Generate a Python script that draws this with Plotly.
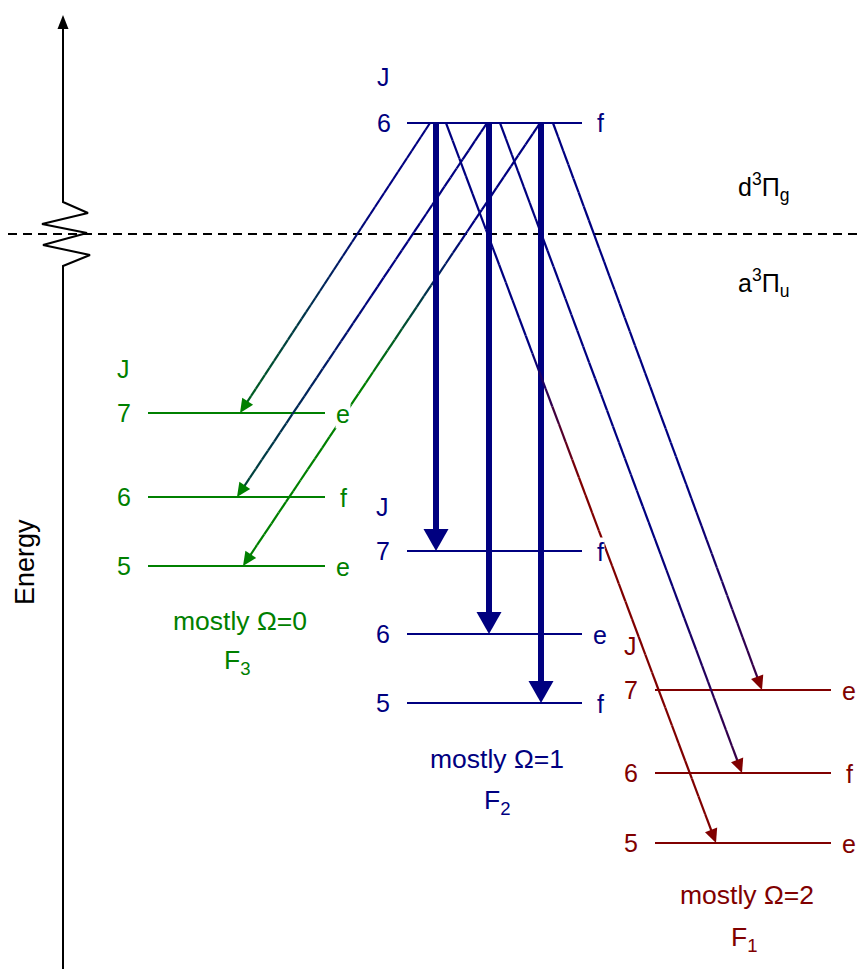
import numpy as np
import plotly.graph_objects as go

W, H = 860, 969
NAVY = "#000080"
GREEN = "#008000"
RED = "#800000"
FONT = "Liberation Sans, Arial, sans-serif"

# ---------------- data (energies in arbitrary units, increasing upward) ----------------
upper_J = 6
upper_E = 846
upper_parity = "f"

F3_J = [7, 6, 5]
F3_E = [556, 472, 403]
F3_parity = ["e", "f", "e"]

F2_J = [7, 6, 5]
F2_E = [418, 335, 266]
F2_parity = ["f", "e", "f"]

F1_J = [7, 6, 5]
F1_E = [279, 196, 126]
F1_parity = ["e", "f", "e"]

boundary_E = 735

# transitions from the upper J=6 f level
trans_branch = ["F3", "F3", "F3", "F2", "F2", "F2", "F1", "F1", "F1"]
trans_J = [7, 6, 5, 7, 6, 5, 5, 6, 7]

# ---------------- layout / style ----------------
branch_x = {"up": (407, 582), "F3": (148, 325), "F2": (407, 582), "F1": (655, 831)}
branch_color = {"F3": GREEN, "F2": NAVY, "F1": RED}
branch_levels = {"F3": (F3_J, F3_E, F3_parity), "F2": (F2_J, F2_E, F2_parity),
                 "F1": (F1_J, F1_E, F1_parity)}
trans_x_start = [430, 487, 540, 436, 489, 541, 446, 500, 553]
trans_x_end = [240, 237, 243, 436, 489, 541, 716, 742, 762]
# colour fade (start fraction, end fraction, max mix) navy -> lower-branch colour
trans_fade = [(0.3, 1.0, 0.75), (0.45, 1.0, 0.55), (0.25, 0.6, 1.0),
              (0, 1, 0), (0, 1, 0), (0, 1, 0),
              (0.32, 0.5, 1.0), (0.65, 1.0, 0.45), (0.65, 1.0, 0.45)]

fig = go.Figure()


def hex2rgb(h):
    h = h.lstrip("#")
    return np.array([int(h[i:i + 2], 16) for i in (0, 2, 4)], dtype=float)


def mix(c1, c2, w):
    c = hex2rgb(c1) * (1 - w) + hex2rgb(c2) * w
    return "rgb(%d,%d,%d)" % tuple(np.round(c).astype(int))


def line(xs, ys, color, width, dash=None):
    fig.add_trace(go.Scatter(x=xs, y=ys, mode="lines", hoverinfo="skip",
                             line=dict(color=color, width=width, dash=dash),
                             showlegend=False))


def tri(x_tip, y_tip, ux, uy, L, hw, color):
    bx, by = x_tip - ux * L, y_tip - uy * L
    px, py = -uy, ux
    xs = [x_tip, bx + px * hw, bx - px * hw, x_tip]
    ys = [y_tip, by + py * hw, by - py * hw, y_tip]
    fig.add_trace(go.Scatter(x=xs, y=ys, mode="lines", fill="toself", fillcolor=color,
                             line=dict(width=0, color=color), hoverinfo="skip",
                             showlegend=False))


# energy axis
axis_x = 63
brk_dx = [0, 27, -20, 24, -21, 25, 0]
brk_E = [703, 714, 724, 736, 745, 756, 767]
line([axis_x, axis_x] + [axis_x + d for d in brk_dx] + [axis_x],
     [0, brk_E[0]] + brk_E + [940], "black", 2)
tri(axis_x, 954, 0, 1, 14, 5.5, "black")

# boundary between electronic states
line([8, W], [boundary_E, boundary_E], "black", 2, dash="9px,6px")

# levels
x0, x1 = branch_x["up"]
line([x0, x1], [upper_E, upper_E], NAVY, 2)
for b, (Js, Es, ps) in branch_levels.items():
    x0, x1 = branch_x[b]
    for E in Es:
        line([x0, x1], [E, E], branch_color[b], 2.2)

# transitions
N = 40
for i in range(len(trans_J)):
    b = trans_branch[i]
    Js, Es, _ = branch_levels[b]
    Eend = Es[Js.index(trans_J[i])]
    xs0, ys0 = trans_x_start[i], upper_E
    xe, ye = trans_x_end[i], Eend
    dx, dy = xe - xs0, ye - ys0
    Ltot = np.hypot(dx, dy)
    ux, uy = dx / Ltot, dy / Ltot
    thick = b == "F2"
    Lh, hw, lw = (22, 12.5, 6) if thick else (14, 6.5, 2.2)
    xsh, ysh = xe - ux * (Lh - 2), ye - uy * (Lh - 2)
    if thick:
        line([xs0, xsh], [ys0, ysh], NAVY, lw)
        tri(xe, ye, ux, uy, Lh, hw, NAVY)
    else:
        a, bb, wm = trans_fade[i]
        ts = np.linspace(0, 1, N + 1)
        for k in range(N):
            tm = (ts[k] + ts[k + 1]) / 2
            w = np.clip((tm - a) / (bb - a), 0, 1) * wm
            col = mix(NAVY, branch_color[b], w)
            line([xs0 + (xsh - xs0) * ts[k], xs0 + (xsh - xs0) * ts[k + 1]],
                 [ys0 + (ysh - ys0) * ts[k], ys0 + (ysh - ys0) * ts[k + 1]], col, lw)
        tri(xe, ye, ux, uy, Lh, hw, branch_color[b])

# ---------------- text ----------------
ann = []


def txt(x, y, s, color, size=25, bg=None, angle=0):
    d = dict(x=x, y=y, text=s, showarrow=False, xref="x", yref="y",
             font=dict(family=FONT, size=size, color=color),
             xanchor="center", yanchor="middle", textangle=angle)
    if bg:
        d.update(bgcolor=bg, borderpad=0)
    ann.append(d)


x0, x1 = branch_x["up"]
txt(x0 - 24, upper_E + 46, "J", NAVY)
txt(x0 - 23, upper_E, str(upper_J), NAVY)
txt(x1 + 18, upper_E, upper_parity, NAVY, bg="white")

group_text = {"F3": ("mostly Ω=0", "F<sub>3</sub>", 3.5, 1, 55, 96),
              "F2": ("mostly Ω=1", "F<sub>2</sub>", 2, 3, 56, 99),
              "F1": ("mostly Ω=2", "F<sub>1</sub>", 4, 1, 52, 96)}
for b, (Js, Es, ps) in branch_levels.items():
    x0, x1 = branch_x[b]
    c = branch_color[b]
    txt(x0 - 25, Es[0] + 44, "J", c)
    for J, E, p in zip(Js, Es, ps):
        txt(x0 - 24, E, str(J), c)
        txt(x1 + 18, E - 1, p, c, bg="white")
    g1, g2, dx1, dx2, o1, o2 = group_text[b]
    xc = (x0 + x1) / 2
    txt(xc + dx1, Es[-1] - o1, g1, c, size=26.5)
    txt(xc + dx2, Es[-1] - o2, g2, c, size=26.5)

txt(763, boundary_E + 47, "d<sup>3</sup>Π<sub>g</sub>", "black", size=25)
txt(763, boundary_E - 49, "a<sup>3</sup>Π<sub>u</sub>", "black", size=25)
txt(25, 407, "Energy", "black", size=27, angle=-90)

fig.update_layout(
    width=W, height=H, margin=dict(l=0, r=0, t=0, b=0),
    paper_bgcolor="white", plot_bgcolor="white",
    xaxis=dict(range=[0, W], visible=False, fixedrange=True),
    yaxis=dict(range=[0, H], visible=False, fixedrange=True),
    annotations=ann, showlegend=False,
)
fig.write_html("out.html")
